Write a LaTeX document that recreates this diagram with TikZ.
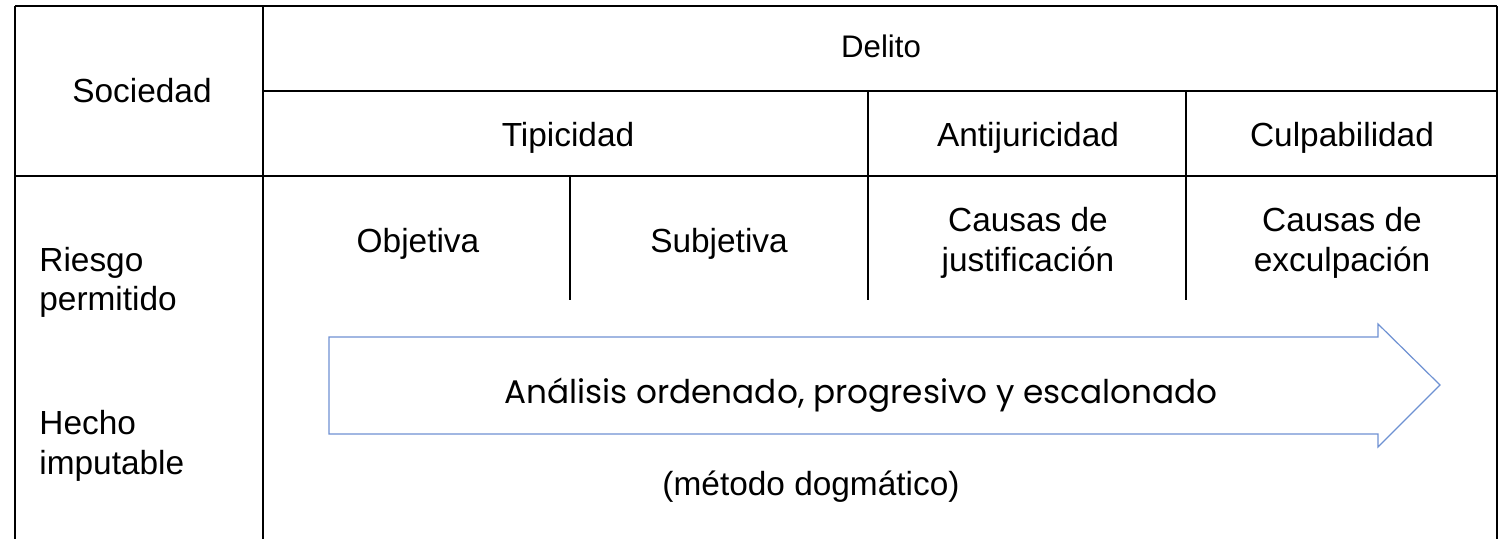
\documentclass[tikz,border=0pt]{standalone}
\usepackage{fontspec}
\setmainfont{Liberation Sans}
\newfontfamily\gothic{Poppins}
\definecolor{flechaazul}{RGB}{110,145,210}
\begin{document}
\begin{tikzpicture}
  [x=0.5pt,y=-0.5pt,
  every node/.style={font=\fontsize{16.7}{20}\selectfont,inner sep=0pt,anchor=base,align=center},
  rejilla/.style={line width=1pt,black},
  flecha/.style={draw=flechaazul,line width=0.6pt,line join=miter}]
  \useasboundingbox (0,0) rectangle (1507,539);
  % rejilla de la tabla
  \draw[rejilla] (15,6) -- (1497,6);
  \draw[rejilla] (263,91) -- (1497,91);
  \draw[rejilla] (15,176) -- (1497,176);
  \draw[rejilla] (15,6) -- (15,539);
  \draw[rejilla] (263,6) -- (263,539);
  \draw[rejilla] (1497,6) -- (1497,539);
  \draw[rejilla] (868,91) -- (868,300);
  \draw[rejilla] (1186,91) -- (1186,300);
  \draw[rejilla] (570,176) -- (570,300);
  % cabeceras
  \node (sociedad) at (142,103) {Sociedad};
  \node[font=\fontsize{15.6}{20}\selectfont] (delito) at (881,58) {Delito};
  \node (tipicidad) at (568,147) {Tipicidad};
  \node (antijur) at (1028,147) {Antijuricidad};
  \node (culpab) at (1342,147) {Culpabilidad};
  \node (objetiva) at (418,253) {Objetiva};
  \node (subjetiva) at (719,253) {Subjetiva};
  % (base = ultima linea)
  \node (justif) at (1028,271) {Causas de\\justificación};
  \node (exculp) at (1342,271) {Causas de\\exculpación};
  \node[anchor=base west,align=left] (riesgo) at (39,311) {Riesgo\\permitido};
  \node[anchor=base west,align=left] (hecho) at (39,474) {Hecho\\imputable};
  % flecha
  \draw[flecha] (329,337) -- (1378,337) -- (1378,324) -- (1440,385)
    -- (1378,447) -- (1378,434) -- (329,434) -- cycle;
  \node[font=\gothic\fontsize{16.35}{20}\selectfont] (analisis) at (861,403)
    {Análisis ordenado, progresivo y escalonado};
  \node (metodo) at (811,495) {(método dogmático)};
\end{tikzpicture}
\end{document}
